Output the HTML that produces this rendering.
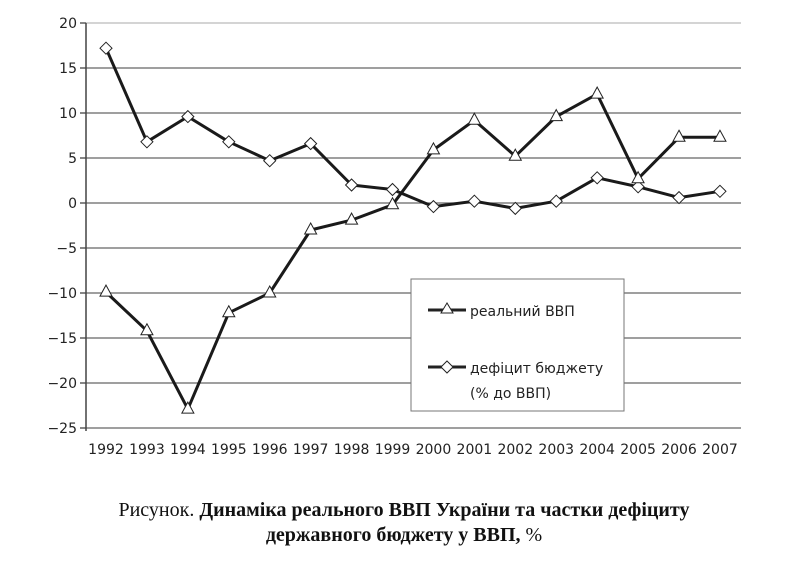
<!DOCTYPE html>
<html><head><meta charset="utf-8">
<style>
html,body{margin:0;padding:0;background:#fff;}
body{width:808px;height:561px;overflow:hidden;}
svg text{font-family:"DejaVu Sans","Liberation Sans",sans-serif;}
.cap{position:absolute;left:0;width:808px;text-align:center;font-family:"Liberation Serif",serif;font-size:20px;color:#111;line-height:25px;}
</style></head>
<body>
<svg id="chart" width="808" height="490" style="position:absolute;left:0;top:0">
<g id="grid"></g>
<g id="yaxis"></g>
<g id="xaxis"></g>
<g id="series"></g>
<g>
<rect x="411" y="279" width="213" height="132" fill="#fff" stroke="#777" stroke-width="1"/>
<line x1="428" y1="310" x2="466" y2="310" stroke="#222" stroke-width="3"/>
<polygon points="447,303 441,313 453,313" fill="#fff" stroke="#222" stroke-width="1"/>
<text x="470" y="316" font-size="14" fill="#222">реальний ВВП</text>
<line x1="428" y1="367" x2="466" y2="367" stroke="#222" stroke-width="3"/>
<polygon points="447,361 453,367 447,373 441,367" fill="#fff" stroke="#222" stroke-width="1"/>
<text x="470" y="373" font-size="14" fill="#222">дефіцит бюджету</text>
<text x="470" y="398" font-size="14" fill="#222">(% до ВВП)</text>
</g>
</svg>
<div class="cap" style="top:498px">Рисунок. <b>Динаміка реального ВВП України та частки дефіциту</b><br><b>державного бюджету у ВВП, </b>%</div>
<script>
const years=["1992","1993","1994","1995","1996","1997","1998","1999","2000","2001","2002","2003","2004","2005","2006","2007"];
const gdp=[-9.9,-14.2,-22.9,-12.2,-10.0,-3.0,-1.9,-0.2,5.9,9.2,5.2,9.6,12.1,2.7,7.3,7.3];
const deficit=[17.2,6.8,9.6,6.8,4.7,6.6,2.0,1.5,-0.4,0.2,-0.6,0.2,2.8,1.8,0.6,1.3];
const yTicks=[20,15,10,5,0,-5,-10,-15,-20,-25];
const NS="http://www.w3.org/2000/svg";
function y(v){return 203-v*9.0;}
function x(i){return 106+i*40.93;}
function mk(tag,attrs,parent){const e=document.createElementNS(NS,tag);for(const k in attrs)e.setAttribute(k,attrs[k]);parent.appendChild(e);return e;}
const grid=document.getElementById('grid'),ya=document.getElementById('yaxis'),xa=document.getElementById('xaxis'),se=document.getElementById('series');
yTicks.forEach(t=>{
  const l=mk('line',{x1:86,x2:741,y1:y(t),y2:y(t),stroke:t===20?'#bbb':'#666','stroke-width':1.3},grid);
  
  
  mk('line',{x1:80,x2:86,y1:y(t),y2:y(t),stroke:'#444','stroke-width':1.3},ya);
  const tx=mk('text',{x:77,y:y(t)+5,'text-anchor':'end','font-size':14,fill:'#222'},ya);
  tx.textContent=t<0?'−'+(-t):String(t);
  
  
});
mk('line',{x1:86,x2:86,y1:y(20),y2:y(-25)+3,stroke:'#444','stroke-width':1.5},ya);
years.forEach((yr,i)=>{
  const tx=mk('text',{x:x(i),y:454,'text-anchor':'middle','font-size':14,fill:'#222'},xa);
  tx.textContent=yr;
  
  
});
function line(vals,name){
  const p=mk('polyline',{points:vals.map((v,i)=>x(i)+','+y(v)).join(' '),fill:'none',stroke:'#1a1a1a','stroke-width':3,'stroke-linejoin':'round'},se);
  
  
}
line(deficit,'deficit-line');
line(gdp,'gdp-line');
deficit.forEach((v,i)=>{
  const cx=x(i),cy=y(v);
  const m=mk('polygon',{points:`${cx},${cy-6} ${cx+6},${cy} ${cx},${cy+6} ${cx-6},${cy}`,fill:'#fff',stroke:'#222','stroke-width':1},se);
  
  
});
gdp.forEach((v,i)=>{
  const cx=x(i),cy=y(v);
  const m=mk('polygon',{points:`${cx},${cy-7} ${cx+6},${cy+4} ${cx-6},${cy+4}`,fill:'#fff',stroke:'#222','stroke-width':1},se);
  
  
});
</script>
</body></html>
